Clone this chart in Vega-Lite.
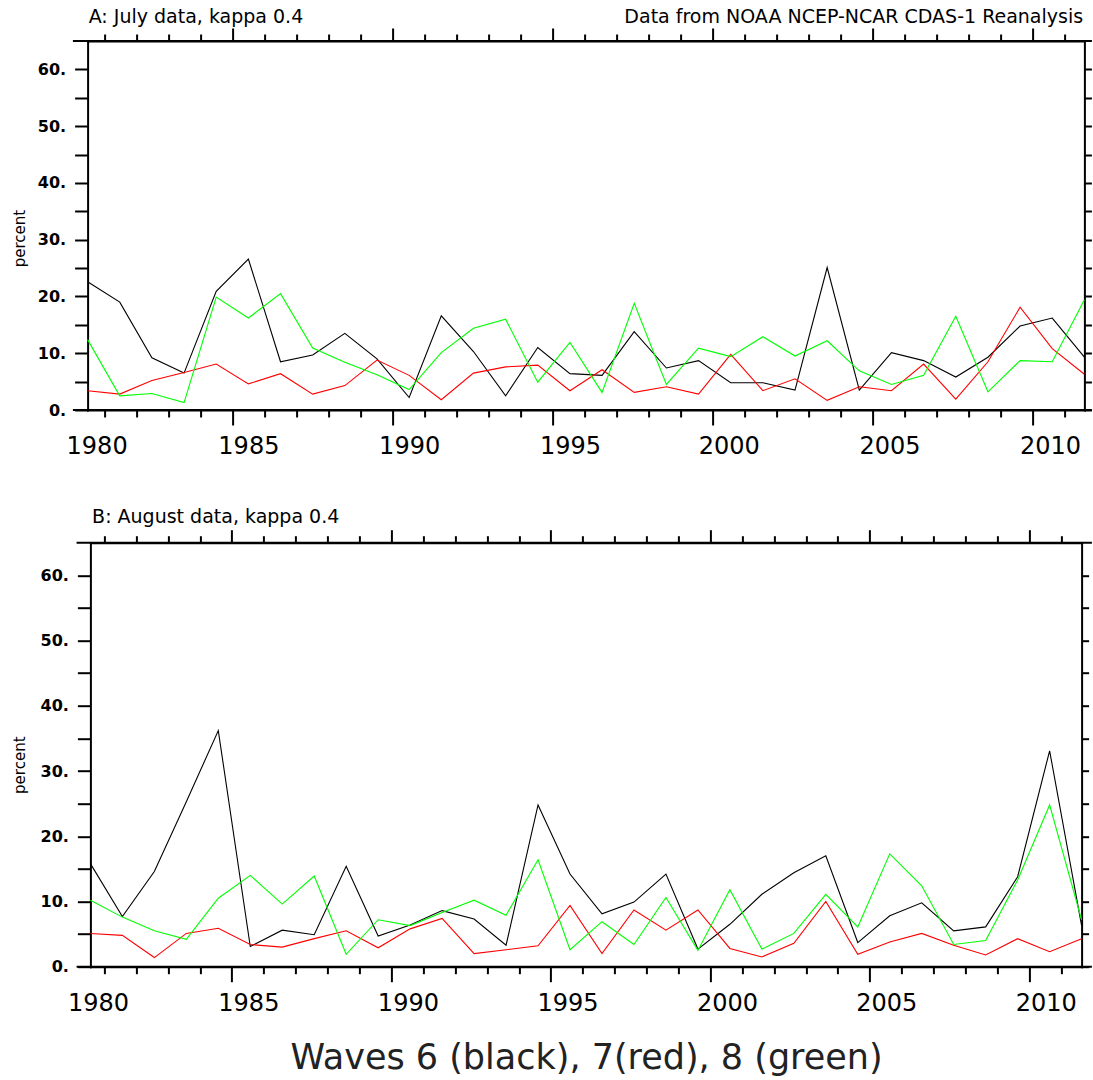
{
  "$schema": "https://vega.github.io/schema/vega-lite/v6.json",
  "padding": {"left": 12.5, "top": 7, "right": 0, "bottom": 4},
  "background": "white",
  "bounds": "flush",
  "center": true,
  "spacing": 132.7,
  "config": {"view": {"stroke": null}, "font": "DejaVu Sans"},
  "datasets": {
    "july": [
      {"year": 1980, "w6": 22.6, "w7": 3.4, "w8": 12.4},
      {"year": 1981, "w6": 19.0, "w7": 2.8, "w8": 2.5},
      {"year": 1982, "w6": 9.2, "w7": 5.2, "w8": 2.9},
      {"year": 1983, "w6": 6.5, "w7": 6.6, "w8": 1.3},
      {"year": 1984, "w6": 20.9, "w7": 8.1, "w8": 19.9},
      {"year": 1985, "w6": 26.6, "w7": 4.6, "w8": 16.2},
      {"year": 1986, "w6": 8.5, "w7": 6.4, "w8": 20.5},
      {"year": 1987, "w6": 9.7, "w7": 2.8, "w8": 10.9},
      {"year": 1988, "w6": 13.5, "w7": 4.3, "w8": 8.4},
      {"year": 1989, "w6": 9.0, "w7": 8.8, "w8": 6.2},
      {"year": 1990, "w6": 2.2, "w7": 6.1, "w8": 3.6},
      {"year": 1991, "w6": 16.6, "w7": 1.8, "w8": 10.1},
      {"year": 1992, "w6": 10.3, "w7": 6.5, "w8": 14.4},
      {"year": 1993, "w6": 2.5, "w7": 7.6, "w8": 16.0},
      {"year": 1994, "w6": 11.0, "w7": 7.9, "w8": 4.9},
      {"year": 1995, "w6": 6.4, "w7": 3.4, "w8": 11.9},
      {"year": 1996, "w6": 6.1, "w7": 7.1, "w8": 3.1},
      {"year": 1997, "w6": 13.8, "w7": 3.1, "w8": 18.8},
      {"year": 1998, "w6": 7.4, "w7": 4.1, "w8": 4.5},
      {"year": 1999, "w6": 8.7, "w7": 2.8, "w8": 10.9},
      {"year": 2000, "w6": 4.8, "w7": 9.8, "w8": 9.4},
      {"year": 2001, "w6": 4.8, "w7": 3.4, "w8": 12.9},
      {"year": 2002, "w6": 3.5, "w7": 5.5, "w8": 9.5},
      {"year": 2003, "w6": 25.1, "w7": 1.7, "w8": 12.2},
      {"year": 2004, "w6": 3.5, "w7": 4.1, "w8": 6.9},
      {"year": 2005, "w6": 10.1, "w7": 3.4, "w8": 4.5},
      {"year": 2006, "w6": 8.7, "w7": 8.1, "w8": 6.1},
      {"year": 2007, "w6": 5.8, "w7": 1.9, "w8": 16.5},
      {"year": 2008, "w6": 9.3, "w7": 8.5, "w8": 3.2},
      {"year": 2009, "w6": 14.8, "w7": 18.1, "w8": 8.7},
      {"year": 2010, "w6": 16.2, "w7": 10.8, "w8": 8.5},
      {"year": 2011, "w6": 9.3, "w7": 6.3, "w8": 19.4}
    ],
    "august": [
      {"year": 1980, "w6": 15.8, "w7": 5.1, "w8": 10.2},
      {"year": 1981, "w6": 7.7, "w7": 4.8, "w8": 7.6},
      {"year": 1982, "w6": 14.6, "w7": 1.4, "w8": 5.5},
      {"year": 1983, "w6": 25.3, "w7": 5.1, "w8": 4.2},
      {"year": 1984, "w6": 36.2, "w7": 5.9, "w8": 10.5},
      {"year": 1985, "w6": 3.1, "w7": 3.4, "w8": 14.0},
      {"year": 1986, "w6": 5.6, "w7": 3.0, "w8": 9.6},
      {"year": 1987, "w6": 4.9, "w7": 4.3, "w8": 13.9},
      {"year": 1988, "w6": 15.4, "w7": 5.5, "w8": 1.9},
      {"year": 1989, "w6": 4.7, "w7": 2.9, "w8": 7.2},
      {"year": 1990, "w6": 6.4, "w7": 5.8, "w8": 6.3},
      {"year": 1991, "w6": 8.6, "w7": 7.4, "w8": 8.3},
      {"year": 1992, "w6": 7.3, "w7": 2.0, "w8": 10.2},
      {"year": 1993, "w6": 3.3, "w7": 2.6, "w8": 7.9},
      {"year": 1994, "w6": 24.8, "w7": 3.2, "w8": 16.4},
      {"year": 1995, "w6": 14.2, "w7": 9.4, "w8": 2.6},
      {"year": 1996, "w6": 8.1, "w7": 2.0, "w8": 6.9},
      {"year": 1997, "w6": 9.9, "w7": 8.7, "w8": 3.4},
      {"year": 1998, "w6": 14.2, "w7": 5.6, "w8": 10.6},
      {"year": 1999, "w6": 2.7, "w7": 8.7, "w8": 2.5},
      {"year": 2000, "w6": 6.5, "w7": 2.8, "w8": 11.8},
      {"year": 2001, "w6": 11.1, "w7": 1.5, "w8": 2.7},
      {"year": 2002, "w6": 14.4, "w7": 3.6, "w8": 5.1},
      {"year": 2003, "w6": 17.0, "w7": 10.0, "w8": 11.1},
      {"year": 2004, "w6": 3.7, "w7": 1.9, "w8": 6.1},
      {"year": 2005, "w6": 7.8, "w7": 3.8, "w8": 17.3},
      {"year": 2006, "w6": 9.8, "w7": 5.1, "w8": 12.4},
      {"year": 2007, "w6": 5.5, "w7": 3.3, "w8": 3.4},
      {"year": 2008, "w6": 6.1, "w7": 1.8, "w8": 4.0},
      {"year": 2009, "w6": 13.8, "w7": 4.3, "w8": 13.3},
      {"year": 2010, "w6": 33.1, "w7": 2.3, "w8": 24.8},
      {"year": 2011, "w6": 6.3, "w7": 4.3, "w8": 7.2}
    ]
  },
  "vconcat": [
    {
      "width": 996.8,
      "height": 369,
      "data": {"name": "july"},
      "transform": [{"fold": ["w6", "w7", "w8"], "as": ["wave", "pct"]}],
      "layer": [
        {
          "mark": {"type": "line", "strokeWidth": 1.1},
          "encoding": {
            "x": {
              "field": "year", "type": "quantitative",
              "scale": {"domain": [1980, 2011], "nice": false, "zero": false},
              "axis": {
                "orient": "bottom",
                "values": [1980.28, 1985.0, 1990.0, 1995.0, 1999.94, 2004.94, 2009.93, 1980.516, 1981.512, 1982.508, 1983.503, 1984.499, 1985.495, 1986.491, 1987.487, 1988.482, 1989.478, 1990.474, 1991.470, 1992.466, 1993.461, 1994.457, 1995.453, 1996.449, 1997.445, 1998.440, 1999.436, 2000.432, 2001.428, 2002.424, 2003.419, 2004.415, 2005.411, 2006.407, 2007.403, 2008.398, 2009.394, 2010.390],
                "labelExpr": "abs(datum.value - round(datum.value)) < 0.3 ? '' + round(datum.value) : ''",
                "tickSize": {"condition": [{"test": "abs(datum.value - round(datum.value)) < 0.3", "value": 0}, {"test": "round(datum.value + 0.5) % 5 === 0", "value": 15}], "value": 7},
                "tickOpacity": {"condition": {"test": "abs(datum.value - round(datum.value)) < 0.3", "value": 0}, "value": 1},
                "tickWidth": 2, "tickColor": "#000",
                "domainWidth": 2, "domainColor": "#000", "domainCap": "square",
                "labelFont": "DejaVu Sans", "labelFontSize": 24, "labelColor": "#000", "labelPadding": 24,
                "labelFlush": false, "labelOverlap": false, "labelBound": false,
                "grid": false, "title": null
              }
            },
            "y": {
              "field": "pct", "type": "quantitative",
              "scale": {"domain": [0, 65], "nice": false, "zero": false},
              "axis": {
                "orient": "left",
                "values": [0, 5, 10, 15, 20, 25, 30, 35, 40, 45, 50, 55, 60],
                "labelExpr": "datum.value % 10 === 0 ? datum.value + '.' : ''",
                "labelFont": "DejaVu Sans", "labelFontSize": 16, "labelFontWeight": "bold", "labelColor": "#000",
                "labelPadding": 9, "labelFlush": false, "labelOverlap": false,
                "tickSize": 13, "tickWidth": 2, "tickColor": "#000",
                "domainWidth": 2, "domainColor": "#000", "domainCap": "square", "grid": false,
                "title": "percent", "titleFont": "DejaVu Sans", "titleFontSize": 15, "titleFontWeight": "normal", "titleColor": "#000",
                "titleAngle": 270, "titleAlign": "center", "titleBaseline": "middle", "titleX": -67.7, "titleY": 197
              }
            },
            "color": {
              "field": "wave", "type": "nominal",
              "scale": {"domain": ["w6", "w7", "w8"], "range": ["#000000", "#ff0000", "#00ff00"]},
              "legend": null
            }
          }
        },
        {
          "mark": {"type": "line", "opacity": 0},
          "encoding": {
            "x": {
              "field": "year", "type": "quantitative",
              "scale": {"domain": [1980, 2011], "nice": false, "zero": false},
              "axis": {
                "orient": "top",
                "values": [1980.516, 1981.512, 1982.508, 1983.503, 1984.499, 1985.495, 1986.491, 1987.487, 1988.482, 1989.478, 1990.474, 1991.470, 1992.466, 1993.461, 1994.457, 1995.453, 1996.449, 1997.445, 1998.440, 1999.436, 2000.432, 2001.428, 2002.424, 2003.419, 2004.415, 2005.411, 2006.407, 2007.403, 2008.398, 2009.394, 2010.390],
                "labels": false,
                "tickSize": {"condition": {"test": "round(datum.value + 0.5) % 5 === 0", "value": 13}, "value": 7},
                "tickWidth": 2, "tickColor": "#000",
                "domainWidth": 2, "domainColor": "#000", "domainCap": "square", "grid": false,
                "title": "A: July data, kappa 0.4", "titleFont": "DejaVu Sans", "titleFontSize": 19, "titleFontWeight": "normal", "titleColor": "#000",
                "titleAnchor": "start", "titleAlign": "left", "titleBaseline": "alphabetic", "titleX": 0.6, "titleY": -18.3
              }
            },
            "y": {
              "field": "pct", "type": "quantitative",
              "scale": {"domain": [0, 65], "nice": false, "zero": false},
              "axis": {
                "orient": "right",
                "values": [0, 5, 10, 15, 20, 25, 30, 35, 40, 45, 50, 55, 60],
                "labels": false,
                "tickSize": 7, "tickWidth": 2, "tickColor": "#000",
                "domainWidth": 2, "domainColor": "#000", "domainCap": "square", "grid": false,
                "title": "Data from NOAA NCEP-NCAR CDAS-1 Reanalysis", "titleFont": "DejaVu Sans", "titleFontSize": 19, "titleFontWeight": "normal", "titleColor": "#000",
                "titleAngle": 0, "titleAlign": "right", "titleBaseline": "alphabetic", "titleX": -1.8, "titleY": -18.3
              }
            },
            "detail": {"field": "wave", "type": "nominal"}
          }
        },
        {
          "data": {"values": [{"edge": 0}, {"edge": 65}]},
          "mark": {"type": "rule", "strokeWidth": 2, "color": "#000"},
          "encoding": {
            "x": {"datum": 1979.543, "type": "quantitative", "scale": {"domain": [1980, 2011], "nice": false, "zero": false}, "axis": null},
            "x2": {"datum": 2011.233},
            "y": {"field": "edge", "type": "quantitative", "scale": {"domain": [0, 65], "nice": false, "zero": false}, "axis": null}
          }
        }
      ],
      "resolve": {"axis": {"x": "independent", "y": "independent"}}
    },
    {
      "width": 991.2,
      "height": 424,
      "data": {"name": "august"},
      "transform": [{"fold": ["w6", "w7", "w8"], "as": ["wave", "pct"]}],
      "layer": [
        {
          "mark": {"type": "line", "strokeWidth": 1.1},
          "encoding": {
            "x": {
              "field": "year", "type": "quantitative",
              "scale": {"domain": [1980, 2011], "nice": false, "zero": false},
              "axis": {
                "orient": "bottom",
                "values": [1980.24, 1984.94, 1989.93, 1994.92, 1999.91, 2004.89, 2009.88, 1980.432, 1981.429, 1982.427, 1983.425, 1984.423, 1985.420, 1986.418, 1987.416, 1988.413, 1989.411, 1990.408, 1991.406, 1992.404, 1993.402, 1994.399, 1995.397, 1996.395, 1997.392, 1998.390, 1999.388, 2000.385, 2001.383, 2002.381, 2003.378, 2004.376, 2005.374, 2006.371, 2007.369, 2008.367, 2009.364, 2010.362],
                "labelExpr": "abs(datum.value - round(datum.value)) < 0.3 ? '' + round(datum.value) : ''",
                "tickSize": {"condition": [{"test": "abs(datum.value - round(datum.value)) < 0.3", "value": 0}, {"test": "round(datum.value + 0.5) % 5 === 0", "value": 15}], "value": 7},
                "tickOpacity": {"condition": {"test": "abs(datum.value - round(datum.value)) < 0.3", "value": 0}, "value": 1},
                "tickWidth": 2, "tickColor": "#000",
                "domainWidth": 2, "domainColor": "#000", "domainCap": "square",
                "labelFont": "DejaVu Sans", "labelFontSize": 24, "labelColor": "#000", "labelPadding": 25,
                "labelFlush": false, "labelOverlap": false, "labelBound": false,
                "grid": false,
                "title": "Waves 6 (black), 7(red), 8 (green)", "titleFont": "DejaVu Sans", "titleFontSize": 35, "titleFontWeight": "normal", "titleColor": "#222",
                "titleAnchor": "middle", "titleAlign": "center", "titleBaseline": "alphabetic", "titleY": 101.3
              }
            },
            "y": {
              "field": "pct", "type": "quantitative",
              "scale": {"domain": [0, 65], "nice": false, "zero": false},
              "axis": {
                "orient": "left",
                "values": [0, 5, 10, 15, 20, 25, 30, 35, 40, 45, 50, 55, 60],
                "labelExpr": "datum.value % 10 === 0 ? datum.value + '.' : ''",
                "labelFont": "DejaVu Sans", "labelFontSize": 16, "labelFontWeight": "bold", "labelColor": "#000",
                "labelPadding": 9, "labelFlush": false, "labelOverlap": false,
                "tickSize": 13, "tickWidth": 2, "tickColor": "#000",
                "domainWidth": 2, "domainColor": "#000", "domainCap": "square", "grid": false,
                "title": "percent", "titleFont": "DejaVu Sans", "titleFontSize": 15, "titleFontWeight": "normal", "titleColor": "#000",
                "titleAngle": 270, "titleAlign": "center", "titleBaseline": "middle", "titleX": -70.5, "titleY": 222
              }
            },
            "color": {
              "field": "wave", "type": "nominal",
              "scale": {"domain": ["w6", "w7", "w8"], "range": ["#000000", "#ff0000", "#00ff00"]},
              "legend": null
            }
          }
        },
        {
          "mark": {"type": "line", "opacity": 0},
          "encoding": {
            "x": {
              "field": "year", "type": "quantitative",
              "scale": {"domain": [1980, 2011], "nice": false, "zero": false},
              "axis": {
                "orient": "top",
                "values": [1980.432, 1981.429, 1982.427, 1983.425, 1984.423, 1985.420, 1986.418, 1987.416, 1988.413, 1989.411, 1990.408, 1991.406, 1992.404, 1993.402, 1994.399, 1995.397, 1996.395, 1997.392, 1998.390, 1999.388, 2000.385, 2001.383, 2002.381, 2003.378, 2004.376, 2005.374, 2006.371, 2007.369, 2008.367, 2009.364, 2010.362],
                "labels": false,
                "tickSize": {"condition": {"test": "round(datum.value + 0.5) % 5 === 0", "value": 13}, "value": 7},
                "tickWidth": 2, "tickColor": "#000",
                "domainWidth": 2, "domainColor": "#000", "domainCap": "square", "grid": false,
                "title": "B: August data, kappa 0.4", "titleFont": "DejaVu Sans", "titleFontSize": 19, "titleFontWeight": "normal", "titleColor": "#000",
                "titleAnchor": "start", "titleAlign": "left", "titleBaseline": "alphabetic", "titleX": 1.2, "titleY": -20.4
              }
            },
            "y": {
              "field": "pct", "type": "quantitative",
              "scale": {"domain": [0, 65], "nice": false, "zero": false},
              "axis": {
                "orient": "right",
                "values": [0, 5, 10, 15, 20, 25, 30, 35, 40, 45, 50, 55, 60],
                "labels": false,
                "tickSize": 7, "tickWidth": 2, "tickColor": "#000",
                "domainWidth": 2, "domainColor": "#000", "domainCap": "square", "grid": false,
                "title": null
              }
            },
            "detail": {"field": "wave", "type": "nominal"}
          }
        },
        {
          "data": {"values": [{"edge": 0}, {"edge": 65}]},
          "mark": {"type": "rule", "strokeWidth": 2, "color": "#000"},
          "encoding": {
            "x": {"datum": 1979.568, "type": "quantitative", "scale": {"domain": [1980, 2011], "nice": false, "zero": false}, "axis": null},
            "x2": {"datum": 2011.322},
            "y": {"field": "edge", "type": "quantitative", "scale": {"domain": [0, 65], "nice": false, "zero": false}, "axis": null}
          }
        }
      ],
      "resolve": {"axis": {"x": "independent", "y": "independent"}}
    }
  ]
}
